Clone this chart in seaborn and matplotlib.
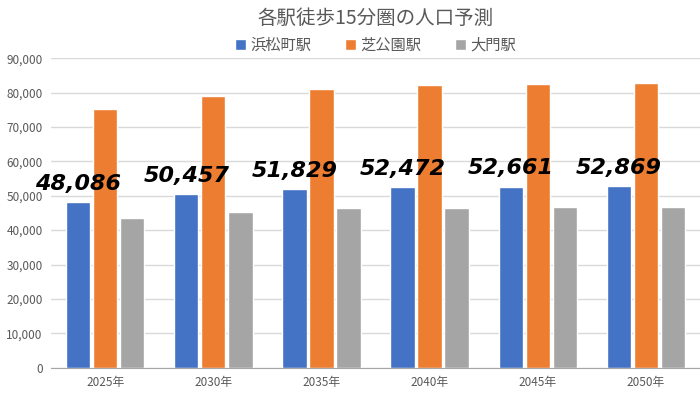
import matplotlib.pyplot as plt
import matplotlib.ticker as mticker
import seaborn as sns
import pandas as pd

years = ['2025年', '2030年', '2035年', '2040年', '2045年', '2050年']
hamamatsucho = [48086, 50457, 51829, 52472, 52661, 52869]
shibakoen = [75200, 78900, 81200, 82200, 82400, 82800]
daimon = [43400, 45300, 46300, 46300, 46600, 46600]
stations = ['浜松町駅', '芝公園駅', '大門駅']
colors = ['#4472C4', '#ED7D31', '#A5A5A5']

df = pd.DataFrame({
    'year': years * 3,
    'station': [stations[0]] * 6 + [stations[1]] * 6 + [stations[2]] * 6,
    'pop': hamamatsucho + shibakoen + daimon,
})

sns.set_style('white')
plt.rcParams['font.family'] = ['Noto Sans CJK JP', 'DejaVu Sans']

fig = plt.figure(figsize=(7, 3.94), dpi=100)
ax = fig.add_axes([0.073, 0.067, 0.927, 0.785])

sns.barplot(data=df, x='year', y='pop', hue='station', palette=colors,
            width=0.75, gap=0.1, ax=ax, legend=True, saturation=1)

ax.set_ylim(0, 90000)
ax.set_xlim(-0.5, 5.5)
ax.yaxis.set_major_locator(mticker.MultipleLocator(10000))
ax.yaxis.set_major_formatter(mticker.StrMethodFormatter('{x:,.0f}'))
ax.grid(axis='y', color='#D9D9D9', linewidth=1)
ax.set_axisbelow(True)
for s in ['top', 'right', 'left']:
    ax.spines[s].set_visible(False)
ax.spines['bottom'].set_color('#A6A6A6')
ax.tick_params(axis='both', length=0, labelsize=8.5, colors='#595959', pad=6)
ax.set_xlabel('')
ax.set_ylabel('')

# data labels for 浜松町駅
for i, v in enumerate(hamamatsucho):
    ax.annotate(f'{v:,}', xy=(i - 0.25, v), xytext=(0, 6), textcoords='offset points',
                ha='center', va='bottom', fontsize=16, fontweight='bold',
                fontstyle='italic', family='DejaVu Sans', color='black')

handles, labels = ax.get_legend_handles_labels()
ax.get_legend().remove()
ax.legend(handles, labels, loc='center', bbox_to_anchor=(0.5, 1.043), ncol=3,
          frameon=False, fontsize=11, handlelength=0.7, handleheight=0.7,
          handletextpad=0.3, columnspacing=2.2, labelcolor='#595959')

ax.text(0.5, 1.0 + (58.3 - 18) / 309, '各駅徒歩15分圏の人口予測', transform=ax.transAxes,
        ha='center', va='center', fontsize=14, color='#595959')

fig.savefig('out.png', dpi=100)
